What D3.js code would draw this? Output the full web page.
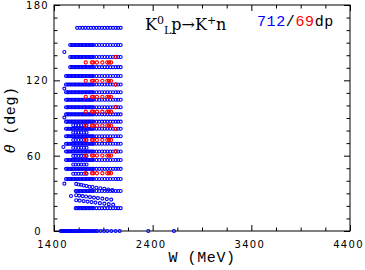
<!DOCTYPE html>
<html lang="en">
<head>
<meta charset="UTF-8" />
<title>KLp to K+n data</title>
<script src="https://d3js.org/d3.v7.min.js"></script>
<style>
  body { margin: 0; background: #fff; }
  svg { display: block; }
  .tick text { font-family: "DejaVu Sans", sans-serif; font-size: 10px; letter-spacing: 1.3px; fill: #000; }
  .lbl { font-family: "Liberation Mono", monospace; fill: #000; }
  .ttl { font-family: "DejaVu Serif", serif; fill: #000; }
</style>
</head>
<body>
<div id="chart"></div>
<script>
// regular cos(theta) bins of the main data set (deg)
const gridTheta = [161.8, 148.2, 138.6, 130.5, 123.4, 116.7, 110.5, 104.5, 98.6, 92.9,
                   87.1, 81.4, 75.5, 69.5, 63.3, 56.6, 49.5, 41.4, 31.8, 18.2];
// lowest energy measured in each bin
const gridWmin = [1615, 1562, 1562, 1562, 1522, 1522, 1522, 1522, 1522, 1522,
                  1522, 1522, 1522, 1522, 1522, 1522, 1522, 1522, 1615, 1615];
// whether the finer energy set exists for that bin
const gridFine = [0, 1, 1, 1, 1, 1, 1, 1, 1, 1, 1, 1, 1, 1, 1, 1, 1, 1, 1, 1];
const coarseW = [1522, 1550, 1578, 1606, 1634, 1662, 1690, 1718, 1746, 1774, 1802,
                 1830, 1858, 1886, 1914, 1942, 1970, 1998, 2026, 2050, 2076];
const fineW = [1536, 1564, 1592, 1620, 1648, 1676, 1704, 1732, 1760, 1788];

// extra points between the bins (another experiment)
const midTheta = [84.2, 78.4, 72.5, 66.3, 59.8, 53.0, 45.6];
const midW = [1595, 1620, 1648, 1675, 1703, 1730];

// forward angle points, [W, theta]
const lowPts = [
  [1625, 37.5], [1650, 37.0], [1675, 36.8], [1700, 36.2], [1730, 35.8], [1760, 35.3],
  [1790, 35.0], [1830, 34.5], [1870, 34.0], [1910, 33.6], [1950, 33.0], [1990, 32.6],
  [1625, 28.5], [1655, 28.2], [1690, 27.8], [1725, 27.5], [1765, 27.0], [1805, 26.6],
  [1845, 26.2], [1890, 25.8], [1935, 25.4], [1980, 25.0],
  [1625, 24.5], [1660, 24.2], [1700, 23.8], [1740, 23.4], [1780, 23.0], [1820, 22.6],
  [1865, 22.2], [1910, 21.8], [1955, 21.4], [2000, 21.0]
];
// isolated low energy points, [W, theta]
const lonePts = [[1505, 142.6], [1505, 113.4], [1505, 90.3], [1495, 66.9], [1505, 37.7], [1572, 27.9]];

// theta = 0 entries
const zeroW = [1468, 1478, 1488, 1498, 1508, 1518, 1528, 1540, 1552, 1565, 1578, 1591,
               1605, 1620, 1635, 1650, 1665, 1680, 1695, 1712, 1730, 1748, 1766, 1785,
               1805, 1823, 1839, 1873, 1907, 1940, 1981, 2025, 2066, 2356, 2616];

// red data set
const redTheta = [134.2, 119.6, 106.9, 95.0, 83.9, 72.5, 60.1, 46.0];
const redW = [1722, 1785, 1798, 1835, 1890, 1940, 1958, 1978];
const redEndW = 2025;
const redEndTheta = [138.6, 116.7, 98.6, 81.4, 63.3];

const xTickLabels = [1400, 2400, 3400, 4400];
const yTickLabels = [0, 60, 120, 180];

// build point lists
const blue = [];
gridTheta.forEach((t, i) => {
  coarseW.filter(w => w >= gridWmin[i]).forEach(w => blue.push([w, t]));
  if (gridFine[i]) fineW.filter(w => w >= gridWmin[i]).forEach(w => blue.push([w, t]));
});
midTheta.forEach(t => midW.forEach(w => blue.push([w, t])));
lowPts.forEach(p => blue.push(p));
lonePts.forEach(p => blue.push(p));
zeroW.forEach(w => blue.push([w, 0]));

const red = [];
redTheta.forEach(t => redW.forEach(w => red.push([w, t])));
redEndTheta.forEach(t => red.push([redEndW, t]));

const width = 365, height = 270;
const mLeft = 54, mRight = 350, mTop = 5, mBottom = 231;

const svg = d3.select("#chart").append("svg")
  .attr("width", width)
  .attr("height", height);

const x = d3.scaleLinear().domain([1400, 4400]).range([mLeft, mRight]);
const y = d3.scaleLinear().domain([0, 180]).range([mBottom, mTop]);

const xMinor = d3.range(1400, 4401, 250).filter(v => !xTickLabels.includes(v));
const yMinor = d3.range(0, 181, 10).filter(v => !yTickLabels.includes(v));

function cleanAxis(g) {
  g.select(".domain").remove();
  g.selectAll(".tick line").attr("stroke", "#000").attr("stroke-width", 1);
}

// bottom
svg.append("g").attr("transform", `translate(0,${mBottom})`)
  .call(d3.axisBottom(x).tickValues(xTickLabels).tickSize(-6).tickFormat(d3.format("d")))
  .call(cleanAxis)
  .call(g => g.selectAll(".tick text").attr("y", 16.5).attr("dy", 0).attr("x", -2));
svg.append("g").attr("transform", `translate(0,${mBottom})`)
  .call(d3.axisBottom(x).tickValues(xMinor).tickSize(-3.5).tickFormat(""))
  .call(cleanAxis);
// top
svg.append("g").attr("transform", `translate(0,${mTop})`)
  .call(d3.axisTop(x).tickValues(xTickLabels).tickSize(-6).tickFormat(""))
  .call(cleanAxis);
svg.append("g").attr("transform", `translate(0,${mTop})`)
  .call(d3.axisTop(x).tickValues(xMinor).tickSize(-3.5).tickFormat(""))
  .call(cleanAxis);
// left
svg.append("g").attr("transform", `translate(${mLeft},0)`)
  .call(d3.axisLeft(y).tickValues(yTickLabels).tickSize(-6).tickFormat(d3.format("d")))
  .call(cleanAxis)
  .call(g => g.selectAll(".tick text")
    .attr("x", d => d >= 100 ? -5 : -12)
    .attr("dy", "0.36em"));
svg.append("g").attr("transform", `translate(${mLeft},0)`)
  .call(d3.axisLeft(y).tickValues(yMinor).tickSize(-3.5).tickFormat(""))
  .call(cleanAxis);
// right
svg.append("g").attr("transform", `translate(${mRight},0)`)
  .call(d3.axisRight(y).tickValues(yTickLabels).tickSize(-6).tickFormat(""))
  .call(cleanAxis);
svg.append("g").attr("transform", `translate(${mRight},0)`)
  .call(d3.axisRight(y).tickValues(yMinor).tickSize(-3.5).tickFormat(""))
  .call(cleanAxis);

// frame
svg.append("rect")
  .attr("x", mLeft).attr("y", mTop)
  .attr("width", mRight - mLeft).attr("height", mBottom - mTop)
  .attr("fill", "none").attr("stroke", "#000").attr("stroke-width", 1);

// points
svg.append("g").selectAll("circle")
  .data(blue)
  .join("circle")
  .attr("cx", d => x(d[0]))
  .attr("cy", d => y(d[1]))
  .attr("r", 1.5)
  .attr("fill", "none")
  .attr("stroke", "#0000ff")
  .attr("stroke-width", 1.1);

svg.append("g").selectAll("circle")
  .data(red)
  .join("circle")
  .attr("cx", d => x(d[0]))
  .attr("cy", d => y(d[1]))
  .attr("r", 1.6)
  .attr("fill", "none")
  .attr("stroke", "#ff0000")
  .attr("stroke-width", 1.1);

// axis titles
svg.append("text").attr("class", "lbl")
  .attr("x", (mLeft + mRight) / 2).attr("y", 262)
  .attr("text-anchor", "middle")
  .style("font-size", "15px").style("letter-spacing", "0.6px")
  .text("W (MeV)");

svg.append("text").attr("class", "lbl")
  .attr("transform", "translate(15,120) rotate(-90)")
  .attr("text-anchor", "middle")
  .style("font-size", "15px").style("letter-spacing", "0.6px")
  .call(t => {
    t.append("tspan").style("font-style", "italic").text("\u03b8");
    t.append("tspan").text(" (deg)");
  });

// reaction label
const title = svg.append("text").attr("class", "ttl")
  .attr("x", 145).attr("y", 29.5)
  .style("font-size", "16px");
title.append("tspan").text("K");
title.append("tspan").attr("dy", -6).style("font-size", "11px").text("0");
title.append("tspan").attr("dy", 10).style("font-size", "11px").text("L");
title.append("tspan").attr("dy", -4).text("p\u2192K");
title.append("tspan").attr("dy", -6).style("font-size", "11px").text("+");
title.append("tspan").attr("dy", 6).text("n");

const counts = svg.append("text").attr("class", "lbl")
  .attr("x", 257).attr("y", 26)
  .style("font-size", "15px").style("letter-spacing", "0.6px");
counts.append("tspan").attr("fill", "#0000ff").text("712");
counts.append("tspan").attr("fill", "#000").text("/");
counts.append("tspan").attr("fill", "#ff0000").text("69");
counts.append("tspan").attr("fill", "#000").text("dp");
</script>
</body>
</html>
